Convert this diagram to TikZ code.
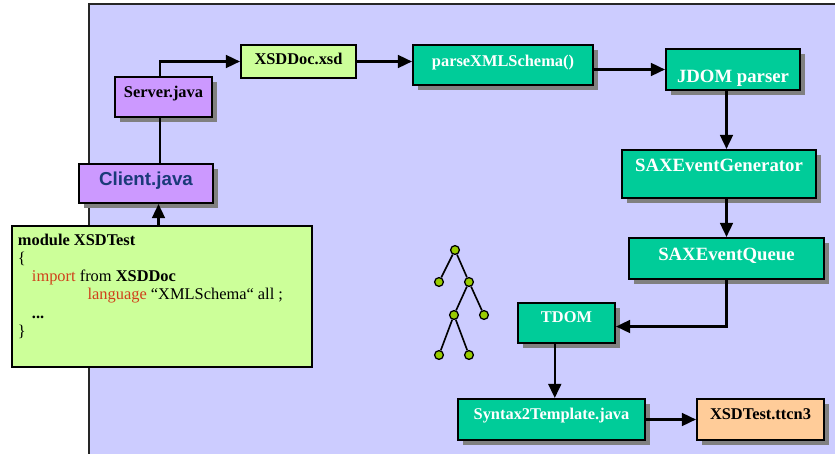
\documentclass[tikz,border=0pt]{standalone}
\usepackage{fontspec}
\setmainfont{Liberation Serif}
\setsansfont{Liberation Sans}
\usepackage{xcolor}
\usepackage{tikz}
\usetikzlibrary{arrows.meta,shadows,positioning}

\definecolor{bglav}{HTML}{CCCCFF}
\definecolor{procgreen}{HTML}{00CC99}
\definecolor{lightgreen}{HTML}{CCFF99}
\definecolor{lilac}{HTML}{CC99FF}
\definecolor{peach}{HTML}{FFCC99}
\definecolor{leafgreen}{HTML}{99CC00}
\definecolor{navyblue}{HTML}{1A3A78}
\definecolor{kwred}{HTML}{D0401A}
\definecolor{shadowgray}{HTML}{808080}

\tikzset{
  box/.style={draw, line width=1.8pt, inner sep=0pt, text height=10pt, text depth=1pt,
    font=\bfseries\fontsize{14}{16}\selectfont},
  shade/.style={drop shadow={shadow xshift=4pt, shadow yshift=-4.5pt, fill=shadowgray, opacity=1}},
  proc/.style={box, shade, fill=procgreen, text=white},
  big/.style={font=\bfseries\fontsize{16}{19}\selectfont, text height=11pt},
  wh/.style 2 args={minimum width=#1*0.03cm, minimum height=#2*0.03cm},
  codebox/.style={draw, line width=1.8pt, fill=lightgreen, inner xsep=5pt, inner ysep=6.5pt,
    font=\fontsize{14}{15.6}\selectfont},
  arr/.style={line width=1.8pt, -{Triangle[length=12pt,width=11pt]}},
  leaf/.style={circle, draw, line width=1.1pt, fill=leafgreen, inner sep=0pt, minimum size=7.5pt},
  twig/.style={line width=1.4pt}
}

\begin{document}
\begin{tikzpicture}[x=0.03cm, y=-0.03cm]
\useasboundingbox (0,0) rectangle (835,454);

% frame
\fill[bglav] (89,4) rectangle (835,454);
\draw[black!85, line width=1.2pt] (89,454) -- (89,4) -- (835,4);

% client side
\node[box, shade, fill=lilac, wh={97}{40}, text depth=9.5pt] (server) at (163.5,97) {Server.java};
\node[box, shade, fill=lilac, wh={134}{39}, big, text depth=7pt, text=navyblue,
  font=\sffamily\bfseries\fontsize{16}{19}\selectfont] (client) at (146,183.5) {Client.java};
\node[box, fill=lightgreen, wh={115}{33}, text depth=5pt] (xsd) at (298.5,61.5) {XSDDoc.xsd};

\node[codebox, anchor=north west] (code) at (11,225) {\parbox[t][107pt][t]{246pt}{%
\textbf{module XSDTest}\\
\{\\
\hspace*{12pt}\textcolor{kwred}{import} from \textbf{XSDDoc}\\
\hspace*{59.5pt}\textcolor{kwred}{language} “XMLSchema“ all ;\\
\hspace*{12pt}\textbf{...}\\
\}}};

% converter chain
\node[proc, wh={180}{40}, text depth=7.8pt] (parse) at (503,65) {parseXMLSchema()};
\node[proc, big, wh={134}{41}, text height=22.8pt] (jdom) at (733,69.5) {JDOM parser};
\node[proc, big, wh={194}{48}, text depth=14.6pt] (gen) at (719,174) {SAXEventGenerator};
\node[proc, big, wh={195}{41}, text depth=7pt] (queue) at (726.5,258.5) {SAXEventQueue};
\node[proc, wh={97}{40}, text depth=11.2pt] (tdom) at (566.5,323) {TDOM};
\node[proc, wh={187}{41}, text depth=10.4pt] (syn) at (551.5,419.5) {Syntax2Template.java};
\node[box, shade, fill=peach, wh={127}{41}, text depth=10.4pt] (ttcn) at (760.5,419.5) {XSDTest.ttcn3};

% tree
\node[leaf] (t1) at (455,250) {};
\node[leaf] (t2) at (439,282) {};
\node[leaf] (t3) at (469,282) {};
\node[leaf] (t4) at (454,315) {};
\node[leaf] (t5) at (484,315) {};
\node[leaf] (t6) at (439,355) {};
\node[leaf] (t7) at (469,355) {};
\draw[twig] (t1) -- (t2);
\draw[twig] (t1) -- (t3);
\draw[twig] (t3) -- (t4);
\draw[twig] (t3) -- (t5);
\draw[twig] (t4) -- (t6);
\draw[twig] (t4) -- (t7);

% connectors
\draw[arr] ([xshift=-3pt]server.north) |- (xsd.west);
\draw[line width=1.8pt] ([xshift=-3pt]server.south) -- ([xshift=-3pt]server.south |- client.north);
\draw[arr] ([xshift=-3pt]code.north) -- ([xshift=-3pt]code.north |- client.south);
\draw[arr] (xsd.east) -- (xsd.east -| parse.west);
\draw[arr] (jdom.west -| parse.east) -- (jdom.west);
\draw[arr] (jdom.south -| queue.north) -- (gen.north -| queue.north);
\draw[arr] (gen.south -| queue.north) -- (queue.north);
\draw[arr] (queue.south) |- ([yshift=-3pt]tdom.east);
\draw[arr] ([xshift=-10pt]tdom.south) -- ([xshift=-10pt]tdom.south |- syn.north);
\draw[arr] (syn.east) -- (syn.east -| ttcn.west);
\end{tikzpicture}
\end{document}
